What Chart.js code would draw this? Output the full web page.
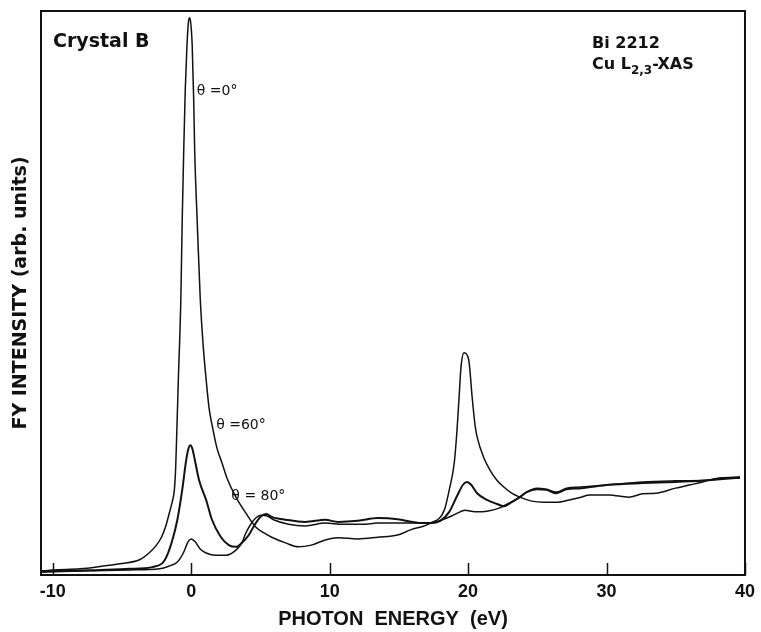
<!DOCTYPE html>
<html>
<head>
<meta charset="utf-8">
<script src="https://cdn.jsdelivr.net/npm/chart.js@4/dist/chart.umd.min.js"></script>
<style>
  html, body { margin: 0; padding: 0; background: #fff; }
</style>
</head>
<body>
<canvas id="xas" width="761" height="632"></canvas>
<script>
// Cu L2,3 fluorescence yield, Bi 2212 crystal B, three polarisation angles
const energy0 = [-10.82, -9.96, -8.0, -6.6, -5.16, -3.73, -3.01, -2.51, -2.15, -1.86, -1.58, -1.36, -1.22, -1.13, -1.08,
  -0.93, -0.75, -0.65, -0.54, -0.43, -0.32, -0.22, -0.14, -0.04, 0.07, 0.18, 0.25, 0.43, 0.65, 0.86, 1.08, 1.29, 1.58,
  1.86, 2.22, 2.58, 3.23, 3.94, 4.66, 5.23, 5.81, 6.81, 7.74, 8.67, 9.68,
  10.61, 12.04, 13.48, 14.91, 15.84, 17.28, 18.28, 18.64, 19.0, 19.2, 19.35, 19.5, 19.71, 19.93, 20.07, 20.29, 20.5, 20.65,
  21.15, 21.58, 22.08, 22.58, 23.15, 23.73, 24.59, 25.45, 26.38, 27.31, 28.17, 28.75, 30.18, 31.61, 32.62, 33.55, 34.98,
  36.06, 36.92, 37.35, 38.2, 39.64];
const fy0 = [0.7, 0.9, 1.1, 1.5, 2.0, 2.7, 4.0, 5.3, 6.7, 8.5, 11.0, 13.1, 15.0, 18.6, 22.2,
  34.6, 48.8, 62.9, 75.4, 86.0, 93.1, 97.5, 98.8, 98.0, 94.0, 84.2, 75.4, 62.9, 49.1, 40.8, 34.6, 29.6, 25.7,
  22.5, 19.9, 17.2, 13.8, 11.0, 8.5, 7.5, 6.7, 5.7, 5.0, 5.3, 6.2,
  6.6, 6.4, 6.7, 7.1, 8.0, 9.2, 11.5, 15.1, 19.9, 25.7, 31.6, 37.2, 39.4, 39.0, 37.8, 31.6, 26.6, 24.5,
  20.7, 18.6, 16.8, 15.6, 14.5, 13.8, 13.1, 12.9, 12.9, 13.3, 13.8, 14.2, 14.2, 13.8, 14.4, 14.5, 15.4,
  16.0, 16.5, 16.8, 17.2, 17.4];

const energy60 = [-10.82, -9.46, -6.6, -4.44, -3.37, -2.8, -2.08, -1.79, -1.36, -1.0, -0.65, -0.36, -0.22, -0.07, 0.07, 0.22,
  0.57, 1.08, 1.5, 2.15, 2.72, 3.23, 3.66, 4.16, 4.66, 5.09, 5.45, 5.81, 6.81, 8.24, 9.68, 10.61, 12.04, 13.48, 14.91,
  15.99, 16.7, 17.28, 17.99, 18.64, 19.2, 19.63, 19.93, 20.22, 20.65, 21.36, 22.08, 22.58, 23.15, 23.73, 24.23, 24.95,
  25.66, 26.38, 27.1, 28.17, 30.18, 32.62, 34.98, 37.35, 38.57, 39.64];
const fy60 = [0.7, 0.7, 0.9, 1.1, 1.2, 1.4, 2.1, 3.2, 6.2, 9.8, 15.1, 20.4, 22.2, 23.0, 22.5, 20.9,
  16.8, 13.3, 9.8, 6.7, 5.3, 5.0, 5.7, 7.1, 9.2, 10.5, 10.8, 10.3, 9.8, 9.4, 9.8, 9.4, 9.6, 10.1, 9.9,
  9.4, 9.2, 9.2, 9.6, 11.2, 14.0, 16.0, 16.5, 16.0, 14.5, 13.3, 12.6, 12.2, 12.9, 13.8, 14.7, 15.2,
  15.1, 14.5, 15.2, 15.4, 16.0, 16.3, 16.5, 16.8, 17.2, 17.2];

const energy80 = [-10.82, -8.0, -4.44, -2.29, -1.58, -1.0, -0.57, -0.22, 0.0, 0.29, 0.65, 1.08, 1.79, 2.51, 3.23, 3.66,
  3.94, 4.3, 4.66, 5.02, 5.45, 5.95, 7.03, 8.24, 9.68, 10.97, 12.4, 13.48, 14.91, 16.34, 17.28, 18.14, 18.85, 19.43,
  19.78, 20.22, 20.65, 21.36, 22.29, 23.0, 23.73, 24.23, 24.95, 25.66, 26.38, 27.1, 28.17, 30.18, 32.62, 34.98, 37.35, 39.64];
const fy80 = [0.5, 0.7, 0.9, 1.1, 1.6, 2.3, 3.9, 5.9, 6.4, 5.9, 4.6, 3.9, 3.5, 3.5, 4.4, 5.7,
  7.4, 9.0, 10.1, 10.6, 10.5, 9.8, 9.0, 8.7, 9.2, 9.0, 9.0, 9.2, 9.2, 9.2, 9.2, 9.8, 10.5, 11.2,
  11.5, 11.3, 11.2, 11.3, 11.9, 12.8, 13.8, 14.7, 15.4, 15.2, 14.7, 15.4, 15.6, 16.0, 16.5, 16.7, 16.8, 17.2];

const energyTicks = [-10, 0, 10, 20, 30, 40];

const FONT = '"DejaVu Sans", sans-serif';
const AXIS_FONT = '"Liberation Sans", Arial, sans-serif';
const INK = '#111';

function toPoints(xs, ys) {
  return xs.map((x, i) => ({ x: x, y: ys[i] }));
}

// box round the plot plus short tick marks pointing into it
const framePlugin = {
  id: 'frame',
  afterDraw(chart) {
    const { ctx, chartArea: a } = chart;
    const xs = chart.scales.x;
    ctx.save();
    ctx.strokeStyle = INK;
    ctx.lineWidth = 2;
    ctx.strokeRect(a.left, a.top, a.right - a.left, a.bottom - a.top);
    ctx.lineWidth = 1.5;
    energyTicks.forEach(v => {
      const px = Math.round(xs.getPixelForValue(v)) + 0.5;
      ctx.beginPath();
      ctx.moveTo(px, a.bottom);
      ctx.lineTo(px, a.bottom - 12);
      ctx.stroke();
    });
    ctx.restore();
  }
};

// sample notes and curve labels
const notesPlugin = {
  id: 'notes',
  afterDraw(chart) {
    const { ctx } = chart;
    const xs = chart.scales.x, ys = chart.scales.y;
    const at = (ex, iy) => [xs.getPixelForValue(ex), ys.getPixelForValue(iy)];
    ctx.save();
    ctx.fillStyle = INK;
    ctx.textBaseline = 'middle';
    ctx.textAlign = 'left';

    ctx.font = 'bold 19px ' + FONT;
    ctx.fillText('Crystal B', 53, 42);
    ctx.font = 'bold 16px ' + FONT;
    ctx.fillText('Bi 2212', 592, 44);
    let x = 592;
    ctx.fillText('Cu L', x, 65);
    x += ctx.measureText('Cu L').width;
    ctx.font = 'bold 12px ' + FONT;
    ctx.fillText('2,3', x, 71);
    x += ctx.measureText('2,3').width;
    ctx.font = 'bold 16px ' + FONT;
    ctx.fillText('-XAS', x, 65);

    ctx.font = '14px ' + FONT;
    let p = at(0.4, 85.8);
    ctx.fillText('θ =0°', p[0], p[1]);
    p = at(1.8, 26.6);
    ctx.fillText('θ =60°', p[0], p[1]);
    p = at(2.9, 14.0);
    ctx.fillText('θ = 80°', p[0], p[1]);
    ctx.restore();
  }
};

const lineStyle = {
  borderColor: INK,
  pointRadius: 0,
  fill: false,
  cubicInterpolationMode: 'monotone'
};

new Chart(document.getElementById('xas'), {
  type: 'line',
  data: {
    datasets: [
      Object.assign({ label: 'θ = 0°', data: toPoints(energy0, fy0), borderWidth: 1.5 }, lineStyle),
      Object.assign({ label: 'θ = 60°', data: toPoints(energy60, fy60), borderWidth: 2 }, lineStyle),
      Object.assign({ label: 'θ = 80°', data: toPoints(energy80, fy80), borderWidth: 1.5 }, lineStyle)
    ]
  },
  options: {
    responsive: false,
    animation: false,
    devicePixelRatio: 1,
    layout: { padding: { top: 11, right: 11, bottom: 0, left: 0 } },
    plugins: { legend: { display: false }, tooltip: { enabled: false } },
    scales: {
      x: {
        type: 'linear',
        min: -10.85,
        max: 40,
        afterBuildTicks(scale) {
          scale.ticks = energyTicks.map(v => ({ value: v }));
        },
        afterFit(scale) { scale.height = 57; },
        grid: { display: false, drawTicks: false },
        border: { display: false },
        ticks: { color: INK, padding: 6, font: { family: AXIS_FONT, size: 18, weight: 'bold' } },
        title: {
          display: true,
          text: 'PHOTON  ENERGY  (eV)',
          color: INK,
          padding: { top: 0, bottom: 1 },
          font: { family: AXIS_FONT, size: 20, weight: 'bold' }
        }
      },
      y: {
        min: 0,
        max: 100,
        afterFit(scale) { scale.width = 41; },
        grid: { display: false, drawTicks: false },
        border: { display: false },
        ticks: { display: false },
        title: {
          display: true,
          text: 'FY INTENSITY (arb. units)',
          color: INK,
          padding: { top: 10, bottom: 0 },
          font: { family: FONT, size: 19, weight: 'bold' }
        }
      }
    }
  },
  plugins: [framePlugin, notesPlugin]
});
</script>
</body>
</html>
